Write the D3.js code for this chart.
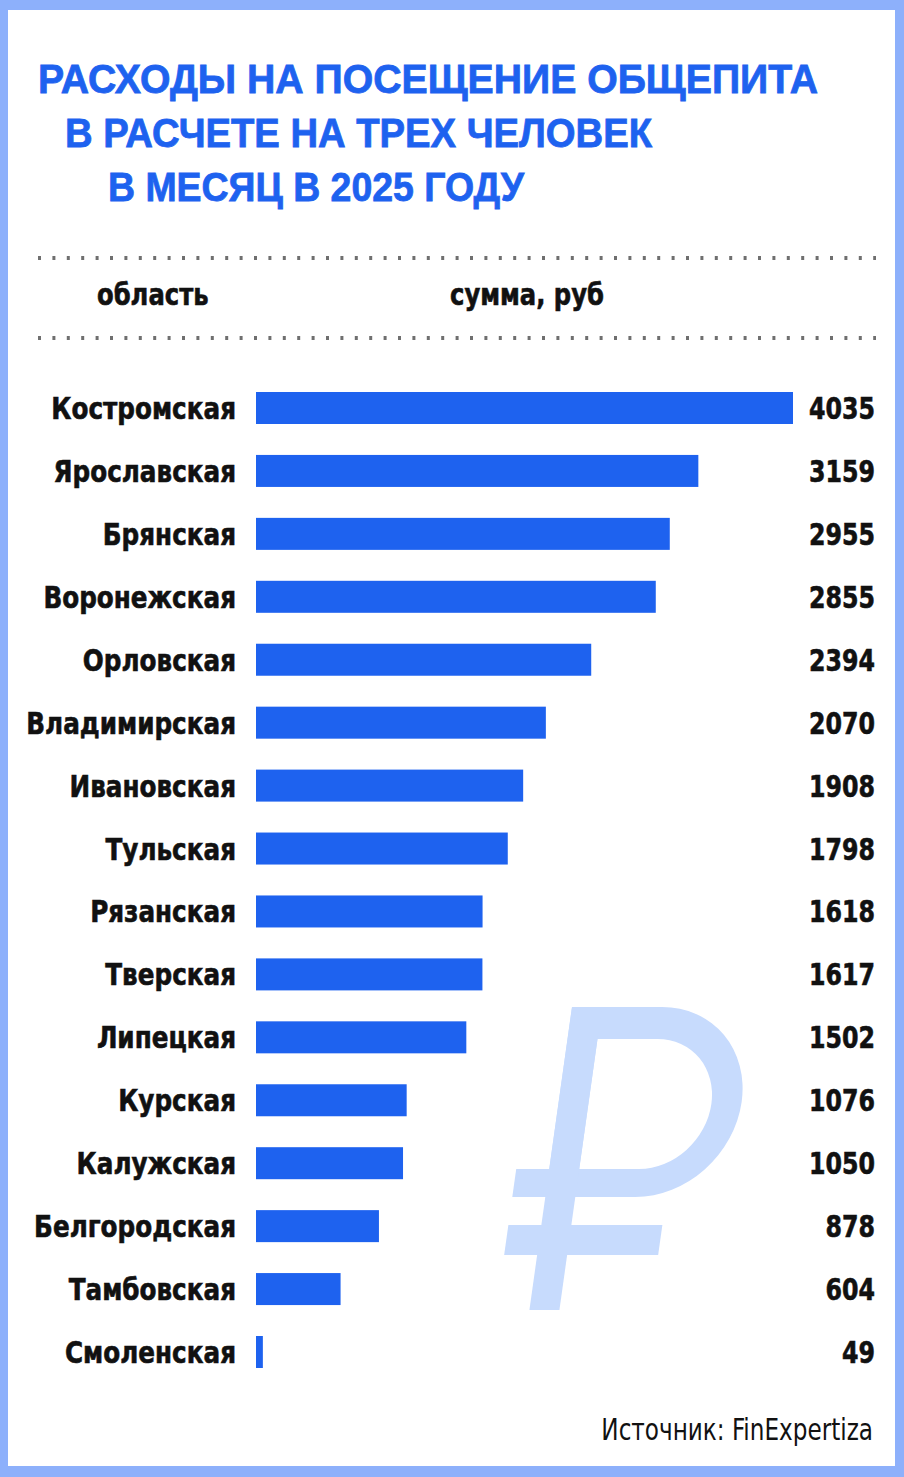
<!DOCTYPE html>
<html><head><meta charset="utf-8">
<script src="https://cdn.jsdelivr.net/npm/d3@7"></script>
<style>
html,body{margin:0;padding:0;background:#fff;}
svg{display:block;}
</style></head>
<body>
<script>
const regions = ["Костромская","Ярославская","Брянская","Воронежская","Орловская","Владимирская","Ивановская","Тульская","Рязанская","Тверская","Липецкая","Курская","Калужская","Белгородская","Тамбовская","Смоленская"];
const values = [4035,3159,2955,2855,2394,2070,1908,1798,1618,1617,1502,1076,1050,878,604,49];
const titleLines = ["РАСХОДЫ НА ПОСЕЩЕНИЕ ОБЩЕПИТА","В РАСЧЕТЕ НА ТРЕХ ЧЕЛОВЕК","В МЕСЯЦ В 2025 ГОДУ"];
const headers = ["область","сумма, руб"];
const source = "Источник: FinExpertiza";

const W = 904, H = 1477;
const BLUE = "#1e62ef", BORDER = "#8db0fb", RUB = "#c7dbfd", INK = "#111";
const condensed = "'DejaVu Sans Condensed','DejaVu Sans',sans-serif";

const svg = d3.select("body").append("svg").attr("width", W).attr("height", H);

// frame
svg.append("rect").attr("x",0).attr("y",0).attr("width",W).attr("height",H).attr("fill",BORDER);
svg.append("rect").attr("x",8).attr("y",10).attr("width",887).attr("height",1456).attr("fill","#fff");

// title
const tx = [38, 65, 108], ty = [93, 147, 201], tw = [780, 587, 416];
svg.selectAll("text.title").data(titleLines).join("text")
  .attr("class","title")
  .attr("x",(d,i)=>tx[i]).attr("y",(d,i)=>ty[i])
  .attr("textLength",(d,i)=>tw[i]).attr("lengthAdjust","spacingAndGlyphs")
  .attr("fill",BLUE).attr("stroke",BLUE).attr("stroke-width",0.8)
  .attr("font-family","'Liberation Sans',Arial,sans-serif")
  .attr("font-weight","bold").attr("font-size",41)
  .text(d=>d);

// dotted lines
[258, 338].forEach(yy=>{
  svg.append("line").attr("x1",38).attr("x2",876).attr("y1",yy).attr("y2",yy)
    .attr("stroke","#6f6f6f").attr("stroke-width",4).attr("stroke-dasharray","3,11.4");
});

function boldText(sel, x, y, anchor, size, sx){
  return sel.append("text")
    .attr("transform",`translate(${x},${y}) scale(${sx},1)`)
    .attr("text-anchor",anchor)
    .attr("font-family",condensed).attr("font-weight","bold").attr("font-size",size)
    .attr("fill",INK).attr("stroke",INK).attr("stroke-width",0.6);
}

// headers
boldText(svg, 97, 305, "start", 31, 0.87).text(headers[0]);
boldText(svg, 450, 305, "start", 31, 0.87).text(headers[1]);

// ruble watermark (decorative)
const rub = svg.append("g").attr("transform","translate(572,1007) skewX(-8)").attr("fill",RUB);
rub.append("path").attr("fill-rule","evenodd")
  .attr("d","M0,0 H90 A93,95 0 0 1 90,190 H0 Z M30,32 H90 A63,65 0 0 1 90,162 H30 Z");
rub.append("rect").attr("x",0).attr("y",0).attr("width",30).attr("height",303);
rub.append("rect").attr("x",-33).attr("y",162).attr("width",63).attr("height",28);
rub.append("rect").attr("x",-33).attr("y",218).attr("width",154).attr("height",30);

// scales
const y = d3.scalePoint().domain(regions).range([408, 1352]);
const x = d3.scaleLinear().domain([0, 3835]).range([256, 793]).clamp(true);
const barH = 32;

const data = regions.map((r,i)=>({r, v: values[i]}));
const rows = svg.append("g").selectAll("g").data(data).join("g");
rows.append("rect")
  .attr("x", x(0)).attr("y", d=>y(d.r)-barH/2)
  .attr("width", d=>x(d.v)-x(0)).attr("height", barH).attr("fill", BLUE);
rows.each(function(d){
  const g = d3.select(this);
  boldText(g, 236, y(d.r)+11, "end", 31, 0.885).text(d.r);
  boldText(g, 875, y(d.r)+11, "end", 31, 0.85).text(d.v);
});

// source
svg.append("text").attr("transform","translate(873,1440) scale(0.83,1)").attr("text-anchor","end")
  .attr("font-family",condensed).attr("font-size",31).attr("fill",INK).text(source);
</script>
</body></html>
